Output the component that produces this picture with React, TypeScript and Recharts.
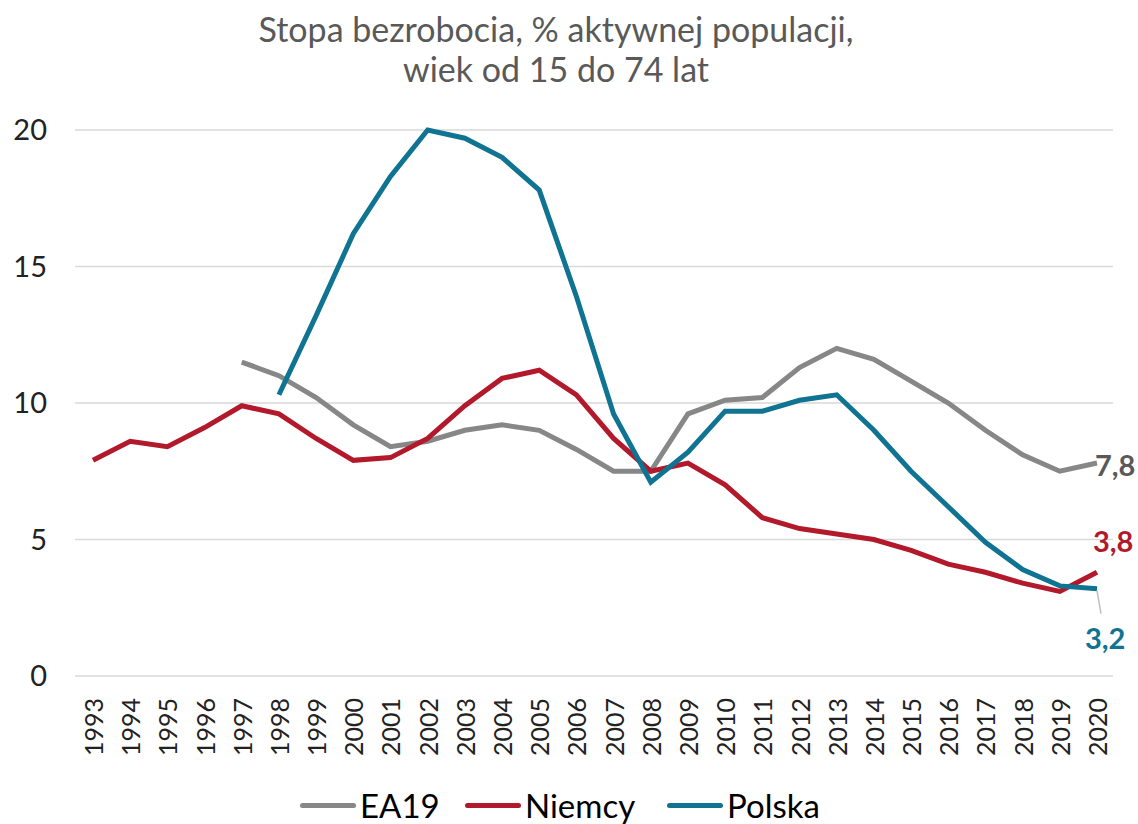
import React from "react";
import { LineChart, Line, XAxis, YAxis, CartesianGrid, LabelList } from "recharts";

const years = [
  "1993", "1994", "1995", "1996", "1997", "1998", "1999", "2000", "2001", "2002",
  "2003", "2004", "2005", "2006", "2007", "2008", "2009", "2010", "2011", "2012",
  "2013", "2014", "2015", "2016", "2017", "2018", "2019", "2020",
];

const ea19 = [
  null, null, null, null, 11.5, 11.0, 10.2, 9.2, 8.4, 8.6,
  9.0, 9.2, 9.0, 8.3, 7.5, 7.5, 9.6, 10.1, 10.2, 11.3,
  12.0, 11.6, 10.8, 10.0, 9.0, 8.1, 7.5, 7.8,
];

const niemcy = [
  7.9, 8.6, 8.4, 9.1, 9.9, 9.6, 8.7, 7.9, 8.0, 8.7,
  9.9, 10.9, 11.2, 10.3, 8.7, 7.5, 7.8, 7.0, 5.8, 5.4,
  5.2, 5.0, 4.6, 4.1, 3.8, 3.4, 3.1, 3.8,
];

const polska = [
  null, null, null, null, null, 10.3, 13.2, 16.2, 18.3, 20.0,
  19.7, 19.0, 17.8, 13.9, 9.6, 7.1, 8.2, 9.7, 9.7, 10.1,
  10.3, 9.0, 7.5, 6.2, 4.9, 3.9, 3.3, 3.2,
];

const yTicks = [0, 5, 10, 15, 20];

const data = years.map((year, i) => ({
  year,
  EA19: ea19[i],
  Niemcy: niemcy[i],
  Polska: polska[i],
}));

const FONT = "Lato, 'Open Sans', sans-serif";
const GRAY = "#878787";
const RED = "#b2192b";
const TEAL = "#0f7391";

const XTick = (props: any) => {
  const { x, y, payload } = props;
  return (
    <text
      x={x}
      y={y}
      transform={`rotate(-90 ${x} ${y})`}
      textAnchor="end"
      dominantBaseline="central"
      fontSize={25}
      fontFamily={FONT}
      fill="#222"
    >
      {payload.value}
    </text>
  );
};

// label shown only at the last point of a series
const endLabel = (color: string, dx: number, dy: number, leader?: boolean) => (props: any) => {
  const { x, y, value, index } = props;
  if (index !== years.length - 1 || value == null) return null;
  const txt = String(value).replace(".", ",");
  return (
    <g>
      {leader && (
        <line x1={x} y1={y + 2} x2={x + 4} y2={y + 25} stroke="#bfbfbf" strokeWidth={1.5} />
      )}
      <text
        x={x + dx}
        y={y + dy}
        dominantBaseline="central"
        fontSize={29}
        fontWeight="bold"
        fontFamily={FONT}
        fill={color}
      >
        {txt}
      </text>
    </g>
  );
};

const legendItems = [
  { name: "EA19", color: GRAY, left: 300 },
  { name: "Niemcy", color: RED, left: 465 },
  { name: "Polska", color: TEAL, left: 667 },
];

export default function App() {
  return (
    <div
      style={{
        position: "absolute",
        left: 0,
        top: 0,
        width: 1138,
        height: 824,
        background: "#fff",
        fontFamily: FONT,
        overflow: "hidden",
      }}
    >
      <div
        style={{
          position: "absolute",
          top: 9,
          left: 0,
          width: 1112,
          textAlign: "center",
          color: "#595959",
          fontSize: 34,
          lineHeight: "40px",
        }}
      >
        Stopa bezrobocia, % aktywnej populacji,
        <br />
        wiek od 15 do 74 lat
      </div>

      <LineChart
        width={1138}
        height={824}
        data={data}
        margin={{ top: 130, right: 25, bottom: 0, left: 0 }}
      >
        <CartesianGrid vertical={false} stroke="#d9d9d9" strokeWidth={1.5} />
        <XAxis
          dataKey="year"
          height={148}
          axisLine={false}
          tickLine={false}
          tickSize={0}
          tickMargin={22}
          interval={0}
          padding={{ left: 18, right: 16 }}
          tick={<XTick />}
        />
        <YAxis
          width={75}
          domain={[0, 20]}
          ticks={yTicks}
          axisLine={false}
          tickLine={false}
          tickSize={0}
          tickMargin={28}
          tick={{ fontSize: 29, fill: "#222", fontFamily: FONT }}
        />
        <Line
          dataKey="EA19"
          stroke={GRAY}
          strokeWidth={5}
          dot={false}
          isAnimationActive={false}
        >
          <LabelList dataKey="EA19" content={endLabel("#595959", -2, 1)} />
        </Line>
        <Line
          dataKey="Niemcy"
          stroke={RED}
          strokeWidth={5}
          dot={false}
          isAnimationActive={false}
        >
          <LabelList dataKey="Niemcy" content={endLabel(RED, -4, -32)} />
        </Line>
        <Line
          dataKey="Polska"
          stroke={TEAL}
          strokeWidth={5}
          dot={false}
          isAnimationActive={false}
        >
          <LabelList dataKey="Polska" content={endLabel(TEAL, -12, 49, true)} />
        </Line>
      </LineChart>

      {legendItems.map((it) => (
        <div
          key={it.name}
          style={{
            position: "absolute",
            left: it.left,
            top: 785,
            height: 40,
            display: "flex",
            alignItems: "center",
            fontSize: 33,
            color: "#000",
          }}
        >
          <span
            style={{
              display: "inline-block",
              width: 56,
              height: 5,
              borderRadius: 3,
              background: it.color,
              marginRight: 4,
            }}
          />
          {it.name}
        </div>
      ))}
    </div>
  );
}
